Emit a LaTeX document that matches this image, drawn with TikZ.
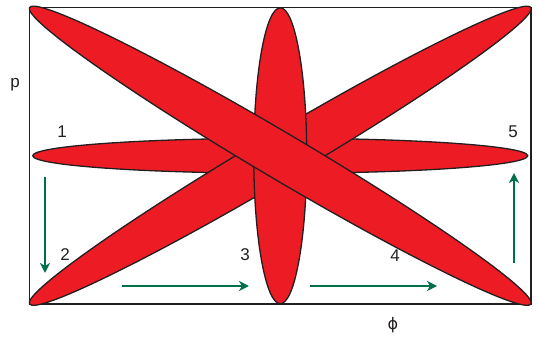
\documentclass[tikz,border=0pt]{standalone}
\usepackage{fontspec}
\setmainfont{Liberation Sans}
\newfontfamily\greekfont{DejaVu Sans}
\usetikzlibrary{arrows.meta}
\definecolor{petalred}{RGB}{237,28,36}
\definecolor{edgegray}{RGB}{35,31,32}
\definecolor{flowgreen}{RGB}{0,112,72}

\begin{document}
\begin{tikzpicture}[x=1pt, y=1pt,
  petal/.style={fill=petalred, draw=edgegray, line width=1.3pt},
  frame/.style={draw=edgegray, line width=1.8pt},
  flow/.style={-{Stealth[length=10pt, width=10pt, inset=3pt]}, draw=flowgreen, line width=2pt},
  lbl/.style={font=\fontsize{17}{20}\selectfont, text=edgegray, inner sep=0pt}
]
\useasboundingbox (0,0) rectangle (537,337);
\coordinate (c) at (280.25,181.25);
% box
\draw[frame] (29.5,33) rectangle (531,329.5);
% petals, back to front
\foreach \ang/\rx/\ry in {0/247.5/17.5, 30.6/291.3/23, 90/148/26.5, -30.6/291.3/23}
  \draw[petal, rotate around={\ang:(c)}] (c) ellipse [x radius=\rx, y radius=\ry];
% labels
\node[lbl] (plab) at (15,252) {p};
\node[lbl, font=\greekfont\fontsize{16}{20}\selectfont] (philab) at (393,12) {ϕ};
\node[lbl] (n1) at (62,205) {1};
\node[lbl] (n2) at (65,82) {2};
\node[lbl] (n3) at (245,82) {3};
\node[lbl] (n4) at (395,81) {4};
\node[lbl] (n5) at (513,205) {5};
% flow arrows
\coordinate (a1) at (45,160);   \coordinate (b1) at (45,64);
\coordinate (a2) at (122,51);   \coordinate (b2) at (249,51);
\coordinate (a3) at (310,51);   \coordinate (b3) at (437,51);
\coordinate (a4) at (514,74);   \coordinate (b4) at (514,164);
\foreach \i in {1,...,4}
  \draw[flow] (a\i) -- (b\i);
\end{tikzpicture}
\end{document}
